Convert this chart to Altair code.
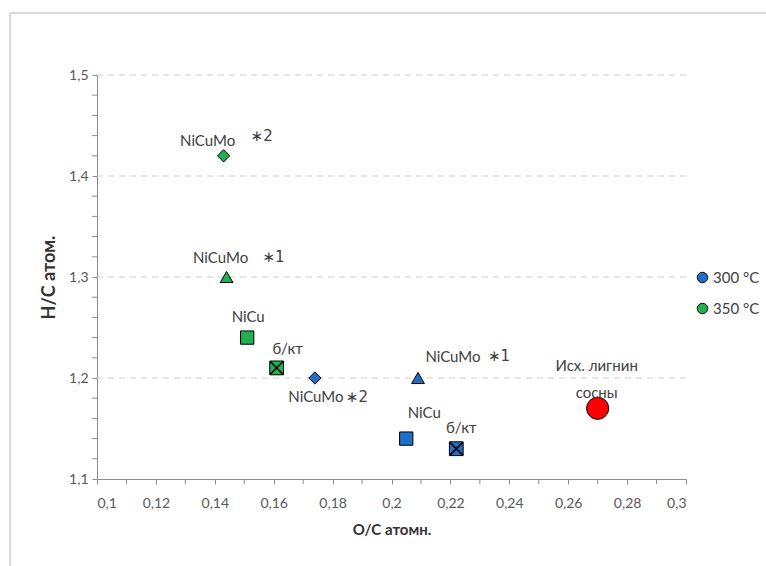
import altair as alt
import pandas as pd

# H/C vs O/C atomic ratios of pine lignin hydrotreatment products
catalyst = ["NiCuMo", "NiCuMo", "NiCu", "б/кт", "NiCuMo", "NiCuMo", "NiCu", "б/кт"]
variant = ["∗2", "∗1", "", "", "∗2", "∗1", "", ""]
temperature = ["350 °C", "350 °C", "350 °C", "350 °C", "300 °C", "300 °C", "300 °C", "300 °C"]
oc_ratio = [0.143, 0.144, 0.151, 0.161, 0.174, 0.209, 0.205, 0.222]
hc_ratio = [1.42, 1.30, 1.24, 1.21, 1.20, 1.20, 1.14, 1.13]

lignin_label = ["Исх. лигнин", "сосны"]
lignin_oc = [0.270]
lignin_hc = [1.17]

temp_domain = ["300 °C", "350 °C"]
temp_colors = ["#1f6fc6", "#21b04f"]

x_major = [0.10, 0.12, 0.14, 0.16, 0.18, 0.20, 0.22, 0.24, 0.26, 0.28, 0.30]
x_minor = [0.11, 0.13, 0.15, 0.17, 0.19, 0.21, 0.23, 0.25, 0.27, 0.29]
y_major = [1.1, 1.2, 1.3, 1.4, 1.5]
y_minor = [1.12, 1.14, 1.16, 1.18, 1.22, 1.24, 1.26, 1.28, 1.32, 1.34, 1.36, 1.38,
           1.42, 1.44, 1.46, 1.48]
y_grid = [1.2, 1.3, 1.4, 1.5]

df = pd.DataFrame({
    "catalyst": catalyst,
    "variant": variant,
    "temp": temperature,
    "oc": oc_ratio,
    "hc": hc_ratio,
})
df["kind"] = [c + (" " + v if v else "") for c, v in zip(catalyst, variant)]
df["idx"] = range(len(df))

lig = pd.DataFrame({"oc": lignin_oc, "hc": lignin_hc})

FONT = "Lato"
W, H = 589, 404
AXIS_GRAY = "#8c8c8c"

xscale = alt.Scale(domain=[0.1, 0.3], nice=False, zero=False)
yscale = alt.Scale(domain=[1.1, 1.5], nice=False, zero=False)

x_axis = alt.Axis(
    values=x_major, grid=False, title="O/C атомн.", labelOverlap=False,
    labelExpr="replace(format(datum.value, '.2~f'), '.', ',')",
    labelFontSize=14, labelColor="#595959", labelFont=FONT, labelPadding=12,
    titleFontSize=15, titleFont=FONT, titleColor="#333333", titleFontWeight="bold", titlePadding=12,
    domainColor=AXIS_GRAY, tickColor=AXIS_GRAY, tickSize=5,
)
y_axis = alt.Axis(
    values=y_major, grid=False, title="H/C атом.", labelOverlap=False,
    labelExpr="replace(format(datum.value, '.1f'), '.', ',')",
    labelFontSize=14, labelColor="#595959", labelFont=FONT, labelPadding=4,
    titleFontSize=18, titleFont=FONT, titleColor="#333333", titleFontWeight="bold", titlePadding=10,
    domainColor=AXIS_GRAY, tickColor=AXIS_GRAY, tickSize=5,
)

base = alt.Chart(df)

axes = alt.Chart(pd.DataFrame({"oc": [0.1], "hc": [1.1]})).mark_point(opacity=0).encode(
    x=alt.X("oc:Q", scale=xscale, axis=x_axis),
    y=alt.Y("hc:Q", scale=yscale, axis=y_axis),
)

# minor tick marks on both axes
y_minor_ticks = alt.Chart(pd.DataFrame({"hc": y_minor})).mark_rule(color=AXIS_GRAY).encode(
    y=alt.Y("hc:Q", scale=yscale), x=alt.value(-5), x2=alt.value(0)
)
x_minor_ticks = alt.Chart(pd.DataFrame({"oc": x_minor})).mark_rule(color=AXIS_GRAY).encode(
    x=alt.X("oc:Q", scale=xscale), y=alt.value(H), y2=alt.value(H + 5)
)

grid = alt.Chart(pd.DataFrame({"hc": y_grid})).mark_rule(
    color="#d0d0d0", strokeDash=[6, 5], strokeWidth=1.2
).encode(y=alt.Y("hc:Q", scale=yscale), x=alt.value(0), x2=alt.value(W))

shape_scale = alt.Scale(
    domain=["NiCuMo ∗2", "NiCuMo ∗1", "NiCu", "б/кт"],
    range=["diamond", "triangle-up", "square", "square"],
)
size_scale = alt.Scale(
    domain=["NiCuMo ∗2", "NiCuMo ∗1", "NiCu", "б/кт"],
    range=[150, 190, 200, 170],
)

points = base.mark_point(filled=True, opacity=1, stroke="black", strokeWidth=1).encode(
    x=alt.X("oc:Q", scale=xscale),
    y=alt.Y("hc:Q", scale=yscale),
    shape=alt.Shape("kind:N", scale=shape_scale, legend=None),
    size=alt.Size("kind:N", scale=size_scale, legend=None),
    fill=alt.Fill("temp:N", scale=alt.Scale(domain=temp_domain, range=temp_colors),
                  legend=alt.Legend(
                      title=None, orient="none", legendX=598, legendY=195,
                      symbolType="circle", symbolSize=110, symbolStrokeColor="black",
                      symbolStrokeWidth=1, labelFontSize=15, labelFont=FONT,
                      labelColor="#404040", rowPadding=15, padding=0, labelOffset=3,
                  )),
)

crosses = base.transform_filter(alt.datum.catalyst == "б/кт").mark_point(
    shape="M-1,-1L1,1M-1,1L1,-1", filled=False, stroke="black", strokeWidth=1.6, size=150, opacity=1
).encode(
    x=alt.X("oc:Q", scale=xscale),
    y=alt.Y("hc:Q", scale=yscale),
)

lignin_pt = alt.Chart(lig).mark_point(
    shape="circle", filled=True, fill="#ff0000", stroke="black", strokeWidth=1, size=490, opacity=1
).encode(x=alt.X("oc:Q", scale=xscale), y=alt.Y("hc:Q", scale=yscale))

# label offsets (name dx, dy, mark dx, dy) per point
offsets = {
    0: (-16, -15, 38, -20),
    1: (-6, -19, 47, -20),
    2: (1, -21, 0, 0),
    3: (11, -19, 0, 0),
    4: (1, 19, 42, 19),
    5: (35, -21, 81, -22),
    6: (18, -26, 0, 0),
    7: (5, -21, 0, 0),
}

text_layers = []
for i, (ndx, ndy, mdx, mdy) in offsets.items():
    sub = base.transform_filter(alt.datum.idx == i)
    text_layers.append(
        sub.mark_text(dx=ndx, dy=ndy, fontSize=15, font=FONT, color="#404040").encode(
            x=alt.X("oc:Q", scale=xscale), y=alt.Y("hc:Q", scale=yscale), text="catalyst:N"
        )
    )
    if variant[i]:
        text_layers.append(
            sub.mark_text(dx=mdx, dy=mdy, fontSize=15, font="DejaVu Sans", color="#404040").encode(
                x=alt.X("oc:Q", scale=xscale), y=alt.Y("hc:Q", scale=yscale), text="variant:N"
            )
        )

for line, dy in zip(lignin_label, [-42, -15]):
    text_layers.append(
        alt.Chart(lig).mark_text(dx=-1, dy=dy, fontSize=15, font=FONT, color="#404040").encode(
            x=alt.X("oc:Q", scale=xscale), y=alt.Y("hc:Q", scale=yscale), text=alt.value(line)
        )
    )

# light frame around the chart area
frame_top = alt.Chart(pd.DataFrame({"a": [0]})).mark_rule(color="#d9d9d9", strokeWidth=2).encode(
    x=alt.value(-87), x2=alt.value(700), y=alt.value(-62)
)
frame_left = alt.Chart(pd.DataFrame({"a": [0]})).mark_rule(color="#d9d9d9", strokeWidth=2).encode(
    x=alt.value(-87), y=alt.value(-62), y2=alt.value(500)
)

chart = alt.layer(
    axes, frame_top, frame_left, grid, y_minor_ticks, x_minor_ticks,
    points, crosses, lignin_pt, *text_layers
).properties(
    width=W, height=H,
    background="white",
    padding={"left": 97, "top": 75, "right": 80, "bottom": 87},
    autosize=alt.AutoSizeParams(type="none"),
).configure_view(
    stroke="#ffffff", strokeWidth=1
).configure_axis(labelOverlap=False, grid=False)

chart.save("out.html", embed_options={"renderer": "svg", "actions": False})
